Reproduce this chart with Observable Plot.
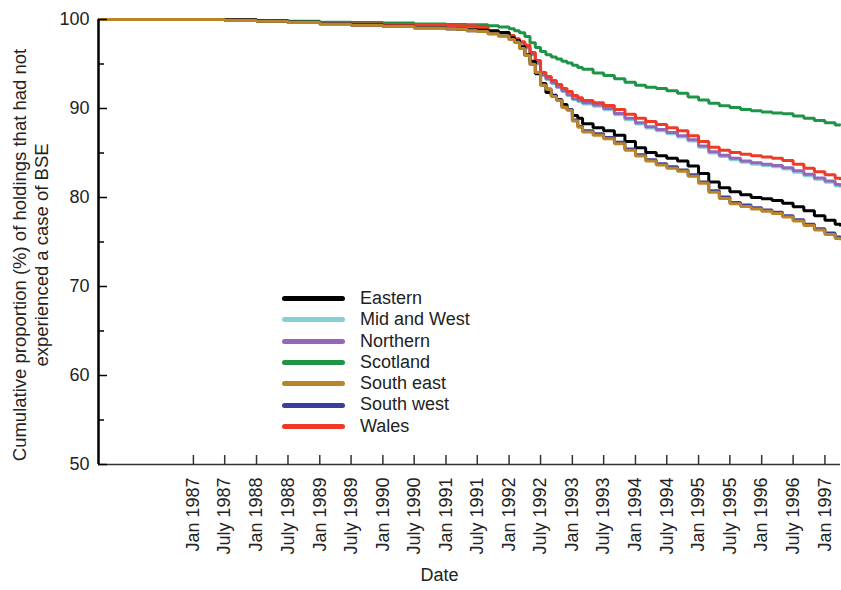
<!DOCTYPE html>
<html><head><meta charset="utf-8">
<script src="https://cdn.jsdelivr.net/npm/d3@7"></script>
<script src="https://cdn.jsdelivr.net/npm/@observablehq/plot@0.6"></script>
<style>
body{margin:0;background:#fff;}
#wrap{position:relative;width:841px;height:590px;font-family:"Liberation Sans",Arial,sans-serif;}
#legend{position:absolute;left:282px;top:288px;font-size:18px;color:#222;line-height:21.3px;}
.row{display:flex;align-items:center;height:21.3px;}
.sw{width:63px;height:5px;border-radius:2.5px;margin-right:15px;}
</style></head><body><div id="wrap"></div>
<script>
// ---- data ----
const dates = ["1985-07","1987-07","1988-01","1988-07","1989-01","1989-07","1990-01","1990-07",
  "1991-01","1991-03","1991-05","1991-07","1991-09","1991-11",
  "1992-01","1992-02","1992-03","1992-04","1992-05","1992-06","1992-07","1992-08","1992-09","1992-10","1992-11","1992-12",
  "1993-01","1993-02","1993-03","1993-05","1993-07","1993-09","1993-11",
  "1994-01","1994-03","1994-05","1994-07","1994-09","1994-11",
  "1995-01","1995-03","1995-05","1995-07","1995-09","1995-11",
  "1996-01","1996-03","1996-05","1996-07","1996-09","1996-11",
  "1997-01","1997-03","1997-04"];

const eastern = [100,99.95,99.85,99.7,99.55,99.4,99.25,99.1,
  98.95,98.9,98.85,98.8,98.7,98.55,
  97.95,97.65,96.95,96.05,95.3,93.9,92.8,91.8,91.5,91.0,90.45,89.9,
  89.2,88.9,88.3,87.85,87.5,87.0,86.3,
  85.6,85.05,84.7,84.4,84.1,83.55,
  82.7,81.75,81.1,80.65,80.3,80.0,
  79.85,79.65,79.35,78.95,78.5,77.95,
  77.45,77.0,76.75];
const midWest = [100,99.95,99.85,99.7,99.6,99.5,99.4,99.3,
  99.3,99.25,99.2,99.05,98.7,98.5,
  98.05,97.7,97.3,96.8,96.0,95.0,93.7,93.25,92.8,92.35,91.9,91.45,
  91.0,90.75,90.5,90.25,89.85,89.3,88.75,
  88.25,87.8,87.5,87.15,86.8,86.35,
  85.65,85.0,84.6,84.25,83.95,83.75,
  83.6,83.45,83.2,82.85,82.45,82.05,
  81.7,81.3,81.1];
const northern = [100,99.95,99.85,99.7,99.6,99.5,99.4,99.3,
  99.3,99.25,99.2,99.05,98.7,98.5,
  98.1,97.75,97.35,96.9,96.1,95.1,93.8,93.35,92.9,92.45,92.0,91.55,
  91.1,90.9,90.65,90.4,90.0,89.45,88.9,
  88.4,87.95,87.65,87.3,86.95,86.5,
  85.8,85.15,84.75,84.4,84.1,83.9,
  83.75,83.6,83.35,83.0,82.6,82.2,
  81.85,81.45,81.25];
const scotland = [100,100,99.9,99.8,99.7,99.65,99.6,99.5,
  99.45,99.45,99.4,99.4,99.3,99.15,
  98.95,98.75,98.5,98.1,97.4,96.85,96.4,96.05,95.8,95.55,95.3,95.1,
  94.85,94.6,94.4,94.0,93.7,93.35,92.95,
  92.6,92.4,92.25,92.0,91.7,91.3,
  90.95,90.6,90.3,90.1,89.9,89.75,
  89.6,89.5,89.4,89.15,88.9,88.65,
  88.4,88.15,88.1];
const southEast = [100,99.9,99.8,99.65,99.5,99.35,99.2,99.05,
  98.95,98.9,98.75,98.65,98.4,98.15,
  97.75,97.45,96.75,95.95,94.95,94.05,92.6,92.15,91.35,90.9,90.1,89.8,
  88.6,87.9,87.35,87.0,86.6,86.05,85.3,
  84.65,84.1,83.65,83.3,82.95,82.4,
  81.6,80.6,79.9,79.3,79.0,78.7,
  78.45,78.2,77.8,77.35,76.85,76.35,
  75.85,75.4,75.2];
const southWest = [100,99.9,99.8,99.65,99.5,99.35,99.2,99.05,
  98.95,98.9,98.75,98.65,98.4,98.15,
  97.75,97.45,96.75,95.95,94.95,94.05,92.65,92.2,91.4,90.95,90.2,89.85,
  88.7,88.0,87.5,87.15,86.75,86.2,85.45,
  84.8,84.25,83.8,83.45,83.1,82.55,
  81.75,80.75,80.05,79.45,79.15,78.85,
  78.6,78.35,77.95,77.5,77.0,76.5,
  76.0,75.55,75.35];
const wales = [100,99.95,99.85,99.7,99.6,99.5,99.4,99.35,
  99.35,99.3,99.3,99.1,98.75,98.55,
  98.2,97.85,97.5,97.1,96.3,95.4,94.05,93.6,93.15,92.7,92.25,91.9,
  91.45,91.2,90.9,90.65,90.35,89.9,89.35,
  88.9,88.55,88.2,87.85,87.5,86.95,
  86.3,85.65,85.3,85.05,84.85,84.7,
  84.55,84.4,84.15,83.75,83.3,82.9,
  82.55,82.15,81.95];

const regions = ["Eastern","Mid and West","Northern","Scotland","South east","South west","Wales"];
const regionValues = [eastern, midWest, northern, scotland, southEast, southWest, wales];
const regionColors = ["#000000","#86d0d3","#9467b8","#1f9447","#b9842a","#3b3f9c","#ef3b26"];
const drawOrder = ["Mid and West","Northern","Scotland","Wales","Eastern","South west","South east"];

const xTickDates = ["1987-01","1987-07","1988-01","1988-07","1989-01","1989-07","1990-01","1990-07",
  "1991-01","1991-07","1992-01","1992-07","1993-01","1993-07","1994-01","1994-07",
  "1995-01","1995-07","1996-01","1996-07","1997-01"];
const xTickLabels = ["Jan 1987","July 1987","Jan 1988","July 1988","Jan 1989","July 1989","Jan 1990","July 1990",
  "Jan 1991","July 1991","Jan 1992","July 1992","Jan 1993","July 1993","Jan 1994","July 1994",
  "Jan 1995","July 1995","Jan 1996","July 1996","Jan 1997"];
const yTicks = [50,60,70,80,90,100];
const yMinorTicks = [55,65,75,85,95];
const xDomain = ["1985-07","1997-04"];
const yLabel = "Cumulative proportion (%) of holdings that had not\nexperienced a case of BSE";
const xLabel = "Date";

// ---- build ----
const parse = d3.utcParse("%Y-%m");
const series = regions.map((r, k) => ({
  region: r, color: regionColors[k],
  data: dates.map((d, i) => ({date: parse(d), value: regionValues[k][i]}))
}));
const tickDates = xTickDates.map(parse);
const labelMap = new Map(tickDates.map((d, i) => [+d, xTickLabels[i]]));
const xStart = parse(xDomain[0]);

const W = 841, H = 590, mL = 98, mR = 1, mT = 19, mB = 126;
const frameW = W - mL - mR, frameH = H - mT - mB;

const lineMarks = drawOrder.map(name => {
  const s = series.find(t => t.region === name);
  return Plot.line(s.data, {x: "date", y: "value", stroke: s.color, strokeWidth: 3,
    curve: "step-after", strokeLinejoin: "miter", strokeLinecap: "butt"});
});

const chart = Plot.plot({
  width: W, height: H,
  marginLeft: mL, marginRight: mR, marginTop: mT, marginBottom: mB,
  style: {fontSize: "18px", fontFamily: "'Liberation Sans', Arial, sans-serif", color: "#222", background: "#fff"},
  x: {type: "utc", domain: xDomain.map(parse)},
  y: {domain: [50, 100]},
  marks: [
    ...lineMarks,
    Plot.ruleY([50], {stroke: "#333", strokeWidth: 1.5}),
    Plot.ruleX([xStart], {stroke: "#000", strokeWidth: 2.5}),
    Plot.tickX(tickDates, {x: d => d, insetTop: frameH - 9, stroke: "#333", strokeWidth: 1.5}),
    Plot.tickY(yTicks, {y: d => d, insetRight: frameW - 9, stroke: "#000", strokeWidth: 1.5}),
    Plot.tickY(yMinorTicks, {y: d => d, insetRight: frameW - 6, stroke: "#000", strokeWidth: 1.5}),
    Plot.axisX(tickDates, {tickSize: 0, tickRotate: -90, tickPadding: 13,
      tickFormat: d => labelMap.get(+d), label: null, fontSize: 18}),
    Plot.axisY(yTicks, {tickSize: 0, tickPadding: 9, label: null, fontSize: 18}),
    Plot.text([yLabel], {text: d => d, frameAnchor: "left", rotate: -90, dx: -69, dy: 13,
      lineHeight: 1.2, textAnchor: "middle", fontSize: 18.5, fill: "#222"}),
    Plot.text([xLabel], {text: d => d, frameAnchor: "bottom", dx: -30, dy: 116,
      fontSize: 18, fill: "#222"})
  ]
});

const wrap = document.getElementById("wrap");
wrap.appendChild(chart);

const legend = document.createElement("div");
legend.id = "legend";
regions.forEach((r, k) => {
  const row = document.createElement("div");
  row.className = "row";
  const sw = document.createElement("div");
  sw.className = "sw";
  sw.style.background = regionColors[k];
  const lab = document.createElement("span");
  lab.textContent = r;
  row.appendChild(sw); row.appendChild(lab);
  legend.appendChild(row);
});
wrap.appendChild(legend);
</script>
</body></html>
